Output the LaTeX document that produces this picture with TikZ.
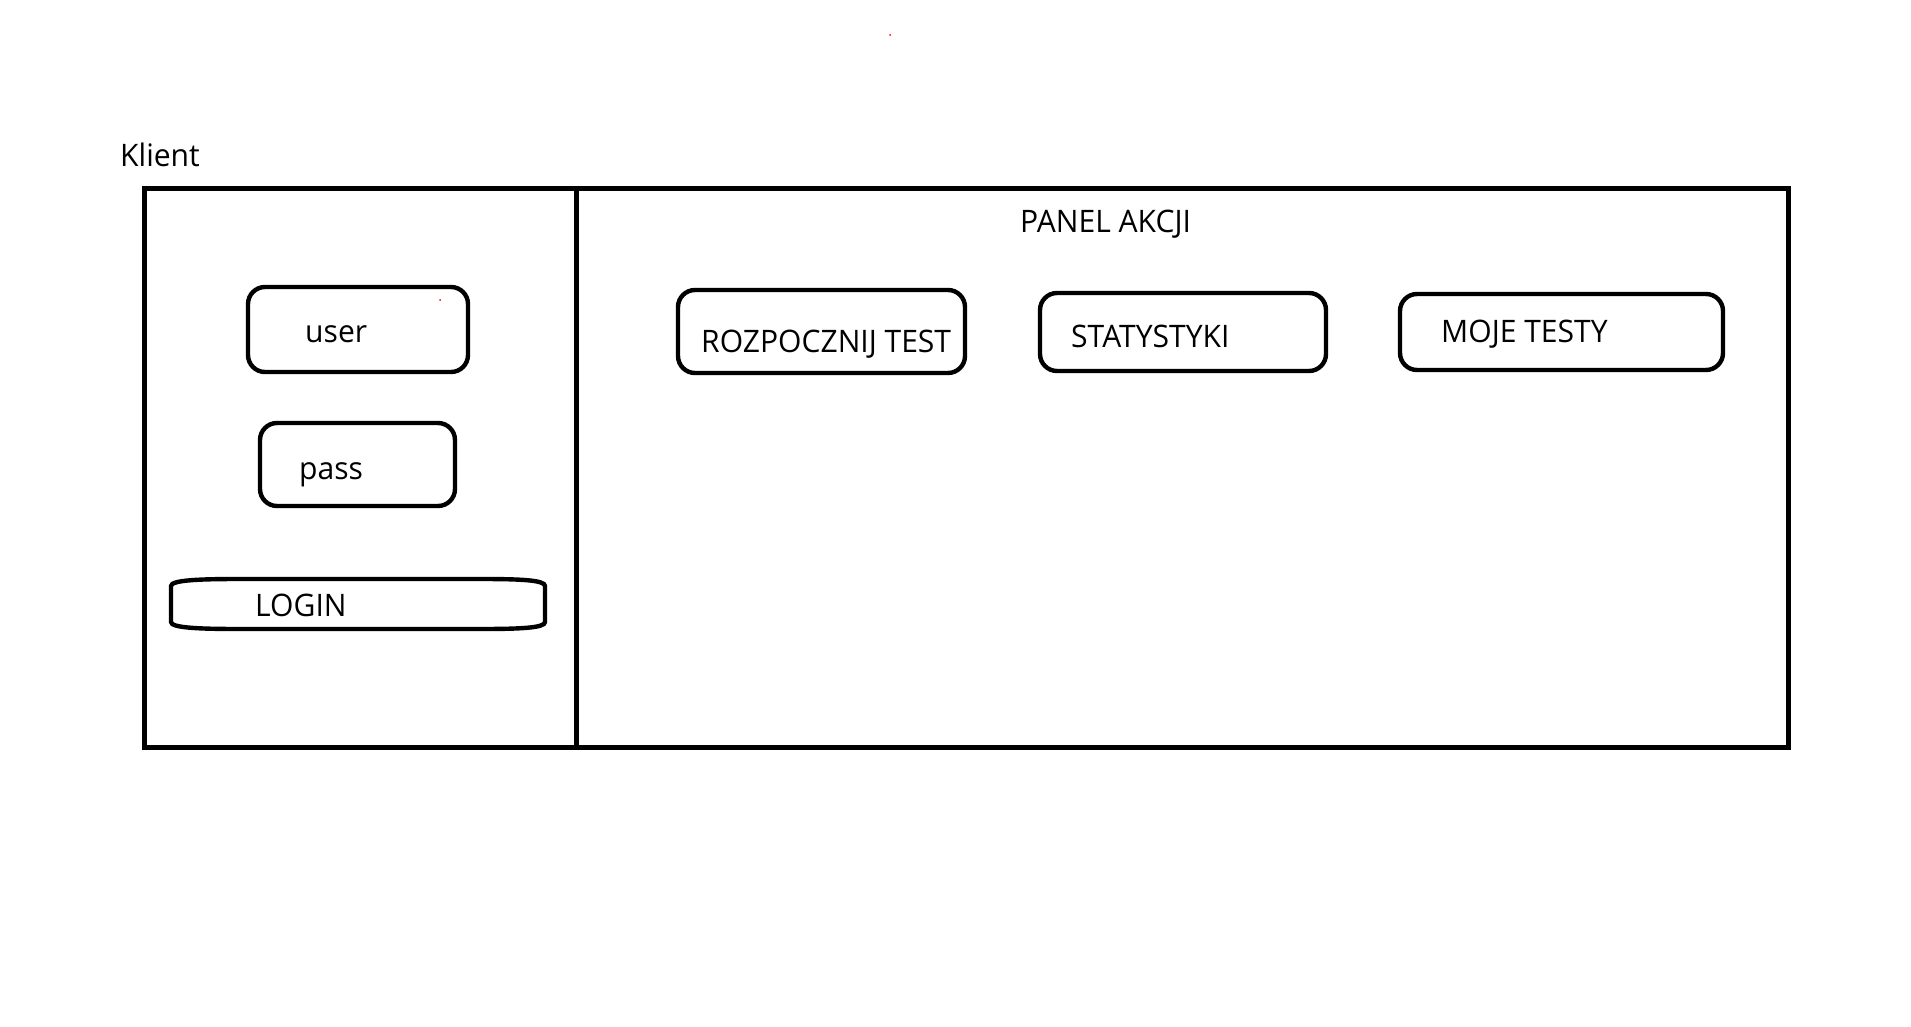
\documentclass[tikz,border=0pt]{standalone}
\usepackage{fontspec}
\setmainfont{Open Sans}[FakeStretch=0.97]
\begin{document}
\begin{tikzpicture}[x=1pt,y=-1pt,
  lbl/.style={anchor=base west,inner sep=0pt,font=\fontsize{31}{36}\selectfont},
  field/.style={draw,line width=4.4pt,rounded corners=17pt,inner sep=0pt,minimum width=#1},
  frame/.style={draw,line width=5pt}]
\useasboundingbox (0,0) rectangle (1911,1027);
% outer frame
\draw[frame] (144.5,188.5) rectangle (1788.5,747);
\coordinate (dtop) at (576,188.5);
\coordinate (dbot) at (576,747);
\draw[frame] (dtop) -- (dbot);
% left panel fields
\node[field=220pt,minimum height=85pt] (user) at (358,329.5) {};
\node[field=195pt,minimum height=83pt] (pass) at (357.5,464.5) {};
\draw[line width=4.4pt] (171,586) .. controls (171,580) and (200,579) .. (240,579) -- (480,579)
  .. controls (520,579) and (545,580) .. (545,586) -- (545,622)
  .. controls (545,628) and (520,629) .. (480,629) -- (240,629)
  .. controls (200,629) and (171,628) .. (171,622) -- cycle;
\coordinate (login) at (358,604);
% right panel buttons
\node[field=287pt,minimum height=83pt] (start) at (821.5,331.5) {};
\node[field=286pt,minimum height=78pt] (stats) at (1183,332) {};
\node[field=323pt,minimum height=76pt] (mine) at (1561.5,332) {};
% texts
\node[lbl] (tklient) at (120,167) {Klient};
\node[lbl] (tuser) at (305,342) {user};
\node[lbl] (tpass) at (299,479) {pass};
\node[lbl] (tlogin) at (255,616) {LOGIN};
\node[lbl] (tpanel) at (1020,233) {PANEL AKCJI};
\node[lbl] (tstart) at (701,352) {ROZPOCZNIJ TEST};
\node[lbl] (tstats) at (1071,347) {STATYSTYKI};
\node[lbl] (tmine) at (1441,342) {MOJE TESTY};
% stray red dots
\fill[red] (890,35) circle (1pt);
\fill[red] (440,300) circle (1pt);
\end{tikzpicture}
\end{document}
